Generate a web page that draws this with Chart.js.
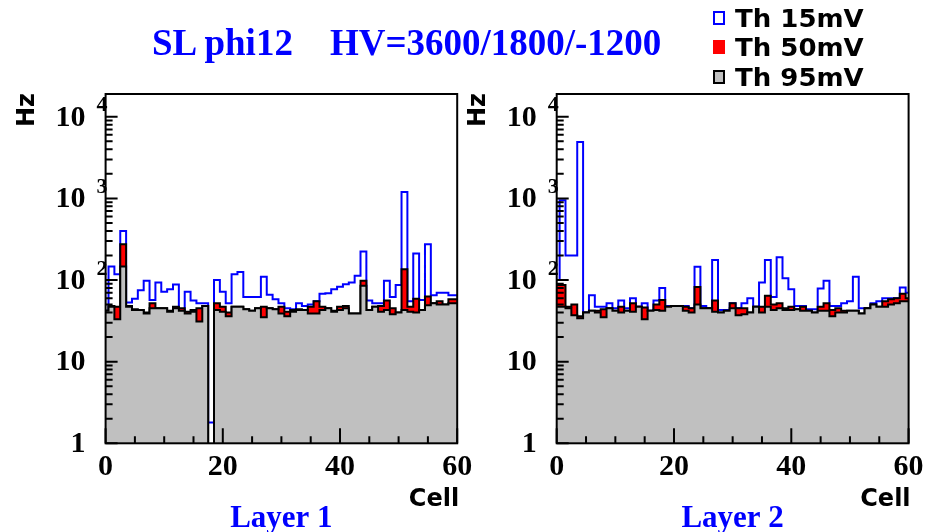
<!DOCTYPE html>
<html>
<head>
<meta charset="utf-8">
<script src="https://cdn.jsdelivr.net/npm/chart.js@4.4.1/dist/chart.umd.min.js"></script>
<style>
  body { margin: 0; background: #fff; }
  #page { position: relative; width: 925px; height: 532px; overflow: hidden; background: #fff; }
  canvas { position: absolute; top: 0; left: 0; }
  #title {
    position: absolute; left: 152px; top: 21px; line-height: 37px;
    font: bold 37px "Liberation Serif", serif; color: #0000ff; white-space: pre;
  }
  .legText {
    position: absolute; left: 735px; line-height: 25px;
    font: bold 25px "DejaVu Sans", sans-serif; color: #000; white-space: pre;
    transform: scaleX(1.04); transform-origin: left center;
  }
  .legBox { position: absolute; left: 713px; width: 12px; height: 14px; box-sizing: border-box; }
</style>
</head>
<body>
<div id="page">
  <canvas id="layer1" width="925" height="532"></canvas>
  <canvas id="layer2" width="925" height="532"></canvas>
  <div id="title">SL phi12    HV=3600/1800/-1200</div>
  <div class="legBox" style="top:11px; border:2px solid #0000ff; background:#fff"></div>
  <div class="legText" style="top:4px">Th 15mV</div>
  <div class="legBox" style="top:40px; background:#ff0000"></div>
  <div class="legText" style="top:33px">Th 50mV</div>
  <div class="legBox" style="top:70px; border:2px solid #000; background:#c0c0c0"></div>
  <div class="legText" style="top:63px">Th 95mV</div>
</div>
<script>
// cell numbers (bins are centred on each cell)
const cells = [0, 1, 2, 3, 4, 5, 6, 7, 8, 9, 10, 11, 12, 13, 14, 15, 16, 17, 18, 19, 20,
  21, 22, 23, 24, 25, 26, 27, 28, 29, 30, 31, 32, 33, 34, 35, 36, 37, 38, 39, 40,
  41, 42, 43, 44, 45, 46, 47, 48, 49, 50, 51, 52, 53, 54, 55, 56, 57, 58, 59, 60];

// rates in Hz, layer 1
const layer1Th15 = [42, 146, 118, 400, 53, 59, 75, 98, 57, 93, 72, 77, 88, 44, 72, 56, 52, 52, 1.8, 100, 72,
  52, 118, 125, 62, 62, 62, 110, 66, 58, 52, 45, 44, 52, 48, 50, 55, 68, 69, 77, 83,
  89, 93, 113, 224, 56, 52, 52, 98, 62, 87, 1200, 55, 212, 57, 275, 65, 70, 70, 65, 65];
const layer1Th50 = [42, 48, 47, 275, 48, 44, 43, 40, 52, 45, 45, 42, 47, 45, 41, 43, 45, 48, 0.5, 52, 47,
  40, 47, 47, 44, 42, 45, 47, 45, 44, 47, 41, 43, 44, 43, 47, 55, 47, 45, 42, 47,
  48, 39, 39, 98, 43, 47, 48, 56, 45, 40, 136, 47, 59, 43, 63, 52, 55, 50, 58, 58];
const layer1Th95 = [42, 47, 33, 146, 47, 43, 43, 39, 45, 45, 45, 41, 45, 42, 39, 41, 31, 48, 0.5, 43, 41,
  36, 47, 47, 44, 42, 45, 35, 45, 44, 39, 36, 41, 43, 43, 39, 39, 43, 45, 41, 43,
  45, 39, 39, 85, 43, 47, 41, 43, 38, 40, 43, 41, 40, 43, 49, 52, 50, 50, 52, 52];

// rates in Hz, layer 2
const layer2Th15 = [100, 950, 200, 200, 4900, 40, 65, 47, 47, 52, 45, 56, 45, 60, 47, 52, 42, 56, 80, 48, 48,
  48, 48, 45, 145, 48, 45, 176, 43, 43, 52, 45, 52, 60, 47, 93, 176, 62, 190, 105, 77,
  48, 48, 44, 44, 79, 98, 48, 48, 52, 55, 110, 45, 45, 52, 55, 60, 60, 60, 81, 70];
const layer2Th50 = [87, 87, 47, 50, 36, 40, 42, 42, 44, 45, 42, 47, 42, 52, 47, 46, 42, 50, 57, 47, 48,
  48, 47, 45, 82, 45, 45, 56, 40, 42, 52, 45, 45, 40, 47, 47, 64, 50, 52, 45, 47,
  44, 47, 42, 40, 47, 52, 43, 45, 42, 42, 42, 39, 45, 50, 47, 55, 58, 60, 68, 60];
const layer2Th95 = [47, 47, 45, 37, 34, 40, 42, 40, 35, 45, 42, 40, 42, 41, 47, 33, 42, 43, 42, 47, 48,
  48, 42, 40, 50, 45, 45, 41, 40, 42, 45, 37, 38, 40, 47, 40, 47, 43, 45, 43, 43,
  44, 42, 42, 40, 42, 42, 36, 40, 40, 42, 42, 39, 45, 50, 47, 47, 50, 52, 55, 55];

const xMajorTicks = [0, 20, 40, 60];
const xMinorStep = 5;
const yDecades = [1, 10, 100, 1000, 10000];
const yMax = 19000;

// frame, inward ticks and axis text in the old ROOT style
const framePlugin = {
  id: 'frame',
  afterDatasetsDraw(chart, args, opts) {
    const {ctx, chartArea: a, scales: {x, y}} = chart;
    ctx.save();
    ctx.strokeStyle = '#000';
    ctx.lineWidth = 2;
    ctx.strokeRect(a.left, a.top, a.right - a.left, a.bottom - a.top);

    ctx.beginPath();
    yDecades.forEach((d, k) => {
      const py = y.getPixelForValue(d);
      ctx.moveTo(a.left, py);
      ctx.lineTo(a.left + 12, py);
      if (k < yDecades.length - 1) {
        for (let m = 2; m <= 9; m++) {
          const pm = y.getPixelForValue(d * m);
          ctx.moveTo(a.left, pm);
          ctx.lineTo(a.left + 7, pm);
        }
      }
    });
    for (let c = x.min; c <= x.max; c += xMinorStep) {
      const px = x.getPixelForValue(c);
      const len = xMajorTicks.includes(c) ? 15 : 7;
      ctx.moveTo(px, a.bottom);
      ctx.lineTo(px, a.bottom - len);
    }
    ctx.stroke();

    // y labels: 1, 10, 10^2 ...
    ctx.fillStyle = '#000';
    ctx.textBaseline = 'middle';
    yDecades.forEach((d, k) => {
      const py = y.getPixelForValue(d);
      ctx.font = 'bold 30px "Liberation Serif"';
      ctx.textAlign = 'right';
      ctx.fillText(k === 0 ? '1' : '10', a.left - 20, py + 1);
      if (k >= 2) {
        ctx.font = 'bold 22px "Liberation Serif"';
        ctx.textAlign = 'left';
        ctx.fillText(String(k), a.left - 9, py - 11);
      }
    });

    // x labels
    ctx.font = 'bold 30px "Liberation Serif"';
    ctx.textAlign = 'center';
    xMajorTicks.forEach(c => ctx.fillText(String(c), x.getPixelForValue(c), a.bottom + 24));

    ctx.font = 'bold 24px "DejaVu Sans"';
    ctx.textAlign = 'right';
    ctx.fillText('Cell', a.right + 2, a.bottom + 56);

    ctx.save();
    ctx.translate(a.left - 78, a.top + 16);
    ctx.rotate(-Math.PI / 2);
    ctx.textAlign = 'center';
    ctx.fillText('Hz', 0, 0);
    ctx.restore();

    ctx.fillStyle = '#0000ff';
    ctx.font = 'bold 31px "Liberation Serif"';
    ctx.textAlign = 'center';
    ctx.fillText(opts.layer, (a.left + a.right) / 2, a.bottom + 76);
    ctx.restore();
  }
};

function toPoints(values) {
  return cells.map((c, i) => ({x: c, y: values[i]}));
}

function makePanel(id, th15, th50, th95, layer, pad) {
  return new Chart(document.getElementById(id), {
    type: 'line',
    data: {
      datasets: [
        {label: 'Th 95mV', data: toPoints(th95), borderColor: '#000', backgroundColor: '#c0c0c0', fill: 'start'},
        {label: 'Th 50mV', data: toPoints(th50), borderColor: '#000', backgroundColor: '#ff0000', fill: 'start'},
        {label: 'Th 15mV', data: toPoints(th15), borderColor: '#0000ff', fill: false}
      ]
    },
    options: {
      responsive: false,
      animation: false,
      layout: {padding: pad},
      elements: {line: {stepped: 'middle', borderWidth: 2, tension: 0}, point: {radius: 0}},
      scales: {
        x: {type: 'linear', min: 0, max: 60, display: false},
        y: {type: 'logarithmic', min: 1, max: yMax, display: false}
      },
      plugins: {
        legend: {display: false},
        tooltip: {enabled: false},
        frame: {layer: layer}
      }
    },
    plugins: [framePlugin]
  });
}

makePanel('layer1', layer1Th15, layer1Th50, layer1Th95, 'Layer 1',
  {left: 105.6, right: 467.8, top: 94, bottom: 88.7});
makePanel('layer2', layer2Th15, layer2Th50, layer2Th95, 'Layer 2',
  {left: 556.7, right: 16.4, top: 94, bottom: 88.7});
</script>
</body>
</html>
